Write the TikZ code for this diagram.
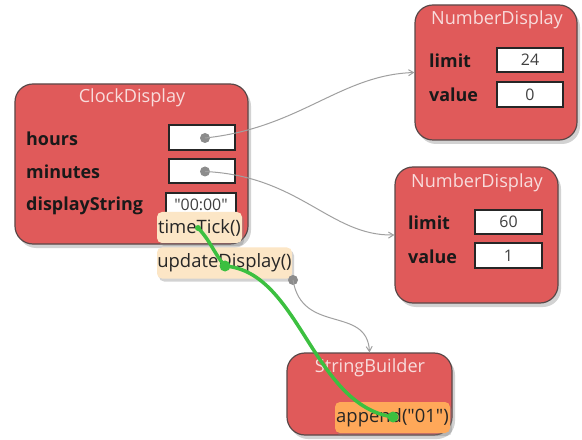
\documentclass[tikz,border=0pt]{standalone}
\usepackage{fontspec}
\setmainfont{Open Sans}
\usetikzlibrary{shadows,arrows.meta}
\definecolor{objred}{HTML}{E05A5A}
\definecolor{objedge}{HTML}{5A4848}
\definecolor{titlecol}{HTML}{F8DCDC}
\definecolor{peach}{HTML}{FCE6C6}
\definecolor{orangebox}{HTML}{FFA859}
\definecolor{refgray}{HTML}{A0A0A0}
\definecolor{greenline}{HTML}{3CC040}
\tikzset{
  objbox/.style={draw=objedge, line width=1.2bp, fill=objred, rounded corners=18bp, inner sep=0pt,
    drop shadow={opacity=0.35, shadow xshift=3bp, shadow yshift=-4bp}},
  objtitle/.style={text=titlecol, font=\fontsize{18.2}{20}\selectfont, inner sep=0pt},
  flabel/.style={font=\bfseries\fontsize{18}{20}\selectfont, text=black!90, inner sep=0pt, anchor=west},
  field/.style={draw=black!85, line width=1.2bp, fill=white, inner sep=0pt, font=\fontsize{16}{18}\selectfont, text=black!75},
  callbox/.style={draw=none, fill=peach, rounded corners=5bp, inner sep=0pt, font=\fontsize{18.5}{20}\selectfont, text=black!85,
    drop shadow={opacity=0.35, shadow xshift=2bp, shadow yshift=-3bp}},
  refline/.style={draw=refgray, line width=1bp, -{Straight Barb[length=5bp,width=6bp]}},
  gdot/.style={circle, fill=black!45, inner sep=0pt, minimum size=10bp},
  grdot/.style={circle, fill=greenline, inner sep=0pt},
  greenpath/.style={draw=greenline, line width=3.5bp, line cap=round}
}
\begin{document}
\begin{tikzpicture}[x=1bp,y=-1bp]
\useasboundingbox[fill=white] (0,0) rectangle (582,440);

% ClockDisplay
\node[objbox, minimum width=233bp, minimum height=160bp] (clock) at (131.5,164) {};
\node[objtitle] (clocktitle) at (132,98) {ClockDisplay};
\node[flabel] (lhours) at (26,139) {hours};
\node[flabel] (lmin) at (26,172) {minutes};
\node[flabel] (ldisp) at (26,206) {displayString};
\node[field, minimum width=66bp, minimum height=25bp] (fhours) at (202,137.5) {};
\node[field, minimum width=66bp, minimum height=24bp] (fmin) at (202,171) {};
\node[field, minimum width=70bp, minimum height=24bp] (fdisp) at (201,205) {\textquotedbl00:00\textquotedbl};
\node[gdot] (dhours) at (205,138) {};
\node[gdot] (dmin) at (205,171.5) {};

% NumberDisplay 1
\node[objbox, minimum width=162bp, minimum height=135bp] (nd1) at (496,72.5) {};
\node[objtitle] (nd1title) at (497,20) {NumberDisplay};
\node[flabel] (nd1l) at (429,61) {limit};
\node[flabel] (nd1v) at (429,95) {value};
\node[field, minimum width=66bp, minimum height=24bp] (nd1lf) at (530,60) {24};
\node[field, minimum width=66bp, minimum height=25bp] (nd1vf) at (530,94.5) {0};

% NumberDisplay 2
\node[objbox, minimum width=163bp, minimum height=136bp] (nd2) at (476.5,235) {};
\node[objtitle] (nd2title) at (477,183) {NumberDisplay};
\node[flabel] (nd2l) at (408,223) {limit};
\node[flabel] (nd2v) at (408,257) {value};
\node[field, minimum width=67bp, minimum height=24bp] (nd2lf) at (508.5,222) {60};
\node[field, minimum width=67bp, minimum height=25bp] (nd2vf) at (508.5,255.5) {1};

% StringBuilder
\node[objbox, minimum width=165bp, minimum height=82bp] (sb) at (369.5,394) {};
\node[objtitle] (sbtitle) at (370,368) {StringBuilder};
\node[callbox, fill=orangebox, minimum width=115bp, minimum height=31bp] (append) at (392.5,417.5) {append(\textquotedbl01\textquotedbl)};

% call boxes
\node[callbox, minimum width=85bp, minimum height=31bp] (tick) at (199.5,227.5) {timeTick()};
\node[callbox, minimum width=135bp, minimum height=31bp] (upd) at (224.5,263) {updateDisplay()};
\node[gdot] (dupd) at (293,280) {};

% references
\draw[refline] (dhours.center) .. controls (300,128) and (340,75) .. (nd1.west);
\draw[refline] (dmin.center) .. controls (300,176) and (330,236) .. (nd2.west);
\draw[refline] (dupd.center) .. controls (302,335) and (367,305) .. (sb.north);

% green call trace
\node[grdot, minimum size=6bp] (g1) at (198,228) {};
\node[grdot, minimum size=11bp] (g2) at (225,266) {};
\node[grdot, minimum size=11bp] (g3) at (393,417) {};
\draw[greenpath] (g1.center) .. controls (210,240) and (215,255) .. (g2.center);
\draw[greenpath] (g2.center) .. controls (300,272) and (312,405) .. (g3.center);
\end{tikzpicture}
\end{document}
